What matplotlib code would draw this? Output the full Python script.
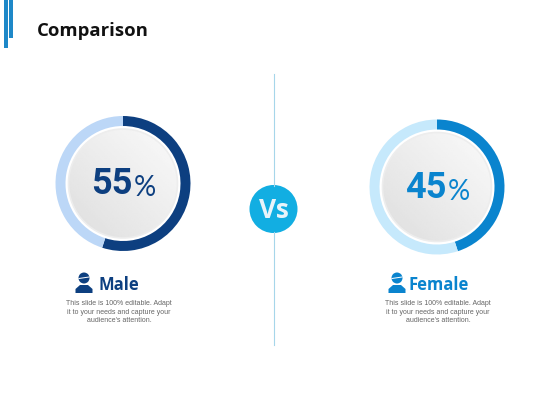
import numpy as np
import matplotlib
matplotlib.use("Agg")
import matplotlib.pyplot as plt
from matplotlib.patches import Circle, Rectangle, Polygon

title = "Comparison"
labels = ["Male", "Female"]
shares = [55, 45]
rest = [45, 55]
desc = "This slide is 100% editable. Adapt\nit to your needs and capture your\naudience's attention."
dark_colors = ["#0D3F80", "#0A84CE"]
light_colors = ["#BCD7F7", "#C6E9FC"]


def py(y):
    # pixel rows in the picture run top down
    return 420 - y


fig = plt.figure(figsize=(5.6, 4.2), dpi=100)
ax = fig.add_axes([0, 0, 1, 1])

# header bars
ax.add_patch(Rectangle((4, py(48)), 4, 48, color="#1E88C8", lw=0))
ax.add_patch(Rectangle((9, py(38)), 4, 38, color="#1E88C8", lw=0))
ax.text(37, py(31), title, fontsize=13.3, fontweight="bold", family="Open Sans",
        color="#111111", va="center", ha="left")

# divider
ax.plot([273.5, 273.5], [py(74), py(186)], color="#A6D6EA", lw=0.8)
ax.plot([273.5, 273.5], [py(232), py(345)], color="#A6D6EA", lw=0.8)
ax.add_patch(Circle((273.5, py(209)), 24, color="#12AEE2", lw=0))
ax.text(273.5, py(210), "Vs", fontsize=19, fontweight="bold", family="Open Sans",
        color="#E8F4FA", ha="center", va="center")

centers = [(123, 183.5), (437, 187)]
grad = np.linspace(0, 1, 64)
gx, gy = np.meshgrid(grad, grad)
shade = 0.87 + 0.11 * (gx + (1 - gy)) / 2

for i, (cx, cy) in enumerate(centers):
    ax.pie([shares[i], rest[i]], colors=[dark_colors[i], light_colors[i]],
           center=(cx, py(cy)), radius=67.5, startangle=90, counterclock=False,
           wedgeprops={"width": 10, "linewidth": 0}, frame=True)

    # grey disc with soft gradient
    ext = [cx - 55, cx + 55, py(cy) - 55, py(cy) + 55]
    im = ax.imshow(shade, extent=ext, origin="upper", cmap="gray", vmin=0, vmax=1, zorder=3)
    disc = Circle((cx, py(cy)), 54.5, transform=ax.transData)
    im.set_clip_path(disc)
    ax.add_patch(Circle((cx, py(cy)), 54.5, fill=False, ec="#EDEDED", lw=1.2, zorder=4))

    ax.text(cx + 10, py(cy + 1), str(shares[i]), fontsize=26, fontweight="bold", family="Roboto",
            color=dark_colors[i], ha="right", va="center", zorder=5)
    ax.text(cx + 11, py(cy + 4.5), "%", fontsize=20, family="Lato",
            color=dark_colors[i], ha="left", va="center", zorder=5)

# person icons
icons = [(84, 278), (397, 278)]
for i, (ix, iy) in enumerate(icons):
    c = dark_colors[i]
    ax.add_patch(Circle((ix, py(iy)), 5.5, color=c, lw=0))
    bottom = py(iy + 15)
    ax.add_patch(Polygon([(ix - 8.5, bottom), (ix - 8.5, bottom + 4), (ix - 4, bottom + 8),
                          (ix + 4, bottom + 8), (ix + 8.5, bottom + 4), (ix + 8.5, bottom)],
                         color=c, lw=0))
    # band across the head
    ax.plot([ix - 5, ix + 5], [py(iy + 0.5), py(iy - 1)], color="white", lw=0.7)

ax.text(99, py(285), labels[0], fontsize=12, fontweight="bold", family="Open Sans",
        color=dark_colors[0], ha="left", va="center")
ax.text(409, py(285), labels[1], fontsize=12, fontweight="bold", family="Open Sans",
        color=dark_colors[1], ha="left", va="center")

ax.text(119, py(312), desc, fontsize=5, family="Liberation Sans", color="#666666",
        ha="center", va="center", linespacing=1.3)
ax.text(438, py(312), desc, fontsize=5, family="Liberation Sans", color="#666666",
        ha="center", va="center", linespacing=1.3)

ax.set_xlim(0, 560)
ax.set_ylim(0, 420)
ax.set_aspect("equal")
ax.axis("off")
fig.savefig("out.png", dpi=100)
